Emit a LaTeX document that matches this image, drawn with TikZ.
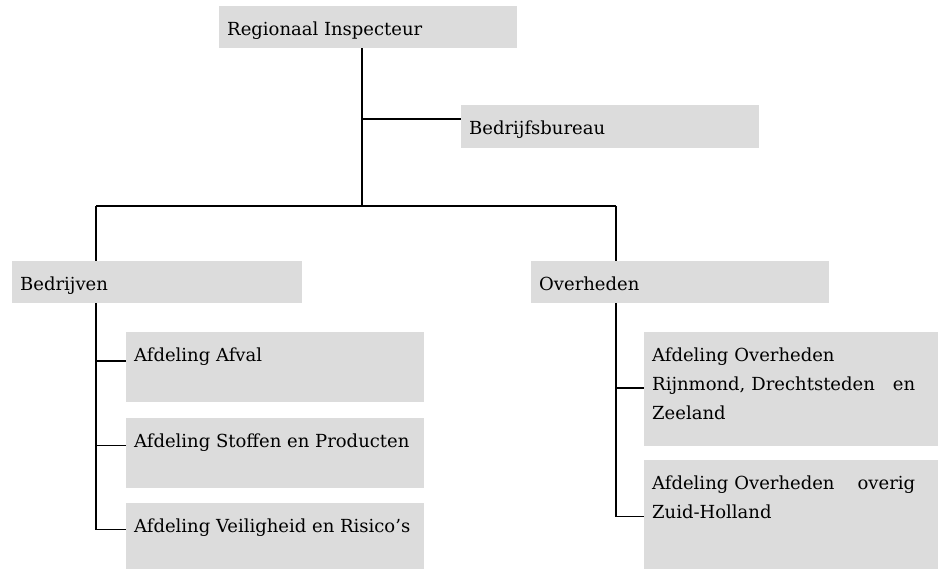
\documentclass[tikz,border=0pt]{standalone}
\usepackage{fontspec}
\setmainfont{DejaVu Serif}
\usepackage{xcolor}
\usetikzlibrary{positioning}
\definecolor{boxgray}{HTML}{DCDCDC}
\tikzset{
  unitbox/.style={fill=boxgray, inner sep=0pt, minimum width=#1},
  unittext/.style={anchor=north west, inner xsep=8pt, inner ysep=16pt, align=left,
    font=\fontsize{18}{29}\selectfont},
  conn/.style={line width=1.2pt, black}
}

\begin{document}
\begin{tikzpicture}[x=1pt, y=1pt]
		\useasboundingbox (0,0) rectangle (938,-569);
		
		\node[unitbox=298pt, minimum height=42pt, anchor=north west] (ri) at (219,-6) {};
		\node[unittext] (ri-t) at (ri.north west) {Regionaal Inspecteur};
		\node[unitbox=298pt, minimum height=43pt, anchor=north west] (bb) at (461,-105) {};
		\node[unittext] (bb-t) at (bb.north west) {Bedrijfsbureau};
		
		\node[unitbox=290pt, minimum height=42pt, anchor=north west] (bed) at (12,-261) {};
		\node[unittext] (bed-t) at (bed.north west) {Bedrijven};
		\node[unitbox=298pt, minimum height=42pt, anchor=north west] (ov) at (531,-261) {};
		\node[unittext] (ov-t) at (ov.north west) {Overheden};
		
		% afdelingen bedrijven
		\node[unitbox=298pt, minimum height=70pt, anchor=north west] (afv) at (126,-332) {};
		\node[unitbox=298pt, minimum height=70pt, below=15pt of afv] (stp) {};
		\node[unitbox=298pt, minimum height=67pt, below=15pt of stp] (vei) {};
		\node[unittext] (afv-t) at (afv.north west) {Afdeling Afval};
		\node[unittext] (stp-t) at (stp.north west) {Afdeling Stoffen en Producten};
		\node[unittext] (vei-t) at (vei.north west) {Afdeling Veiligheid en Risico's};
		
		% afdelingen overheden
		\node[unitbox=294pt, minimum height=114pt, anchor=north west] (rdz) at (644,-332) {};
		\node[unitbox=294pt, minimum height=110pt, below=13pt of rdz] (zh) {};
		\node[unittext, text width=263pt] (rdz-t) at (rdz.north west)
			{Afdeling Overheden\\Rijnmond, Drechtsteden\hfill en\\Zeeland};
		\node[unittext, text width=263pt] (zh-t) at (zh.north west)
			{Afdeling Overheden\hfill overig\\Zuid-Holland};
		
		\coordinate (spine) at (362,-119);
		\coordinate (bus) at (362,-206);
		\coordinate (busl) at (96,-206);
		\coordinate (busr) at (616,-206);
		\coordinate (afv-c) at ([yshift=-29pt]afv.north west);
		\coordinate (stp-c) at ([yshift=-28pt]stp.north west);
		\coordinate (vei-c) at ([yshift=-27pt]vei.north west);
		\coordinate (rdz-c) at ([yshift=-56pt]rdz.north west);
		\coordinate (zh-c) at ([yshift=-57pt]zh.north west);
		
		\draw[conn] (spine |- ri.south) -- (bus);
		\draw[conn] (spine) -- (spine -| bb.west);
		\draw[conn] (busl) -- (busr);
		\draw[conn] (busl) -- (busl |- bed.north);
		\draw[conn] (busr) -- (busr |- ov.north);
		
		\draw[conn] (busl |- bed.south) |- (vei-c);
		\draw[conn] (busl |- afv-c) -- (afv-c);
		\draw[conn] (busl |- stp-c) -- (stp-c);
		
		\draw[conn] (busr |- ov.south) |- (zh-c);
		\draw[conn] (busr |- rdz-c) -- (rdz-c);
		
	\end{tikzpicture}
\end{document}
